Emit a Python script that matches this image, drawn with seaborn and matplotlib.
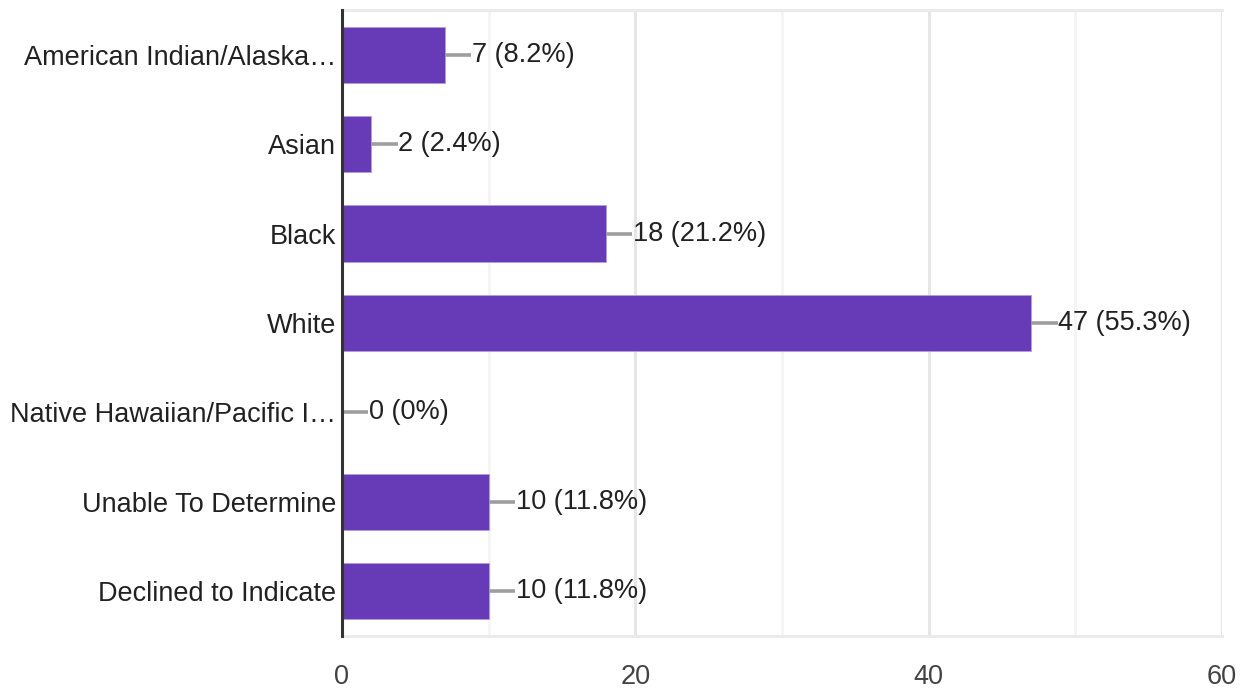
import numpy as np
import matplotlib
matplotlib.use('Agg')
import matplotlib.pyplot as plt
import pandas as pd
import seaborn as sns

sns.set_style('white')
plt.rcParams['font.family'] = ['Liberation Sans', 'DejaVu Sans']

categories = ['American Indian/Alaska\u2026', 'Asian', 'Black', 'White',
              'Native Hawaiian/Pacific I\u2026', 'Unable To Determine',
              'Declined to Indicate']
counts = [7, 2, 18, 47, 0, 10, 10]
pct_labels = ['8.2%', '2.4%', '21.2%', '55.3%', '0%', '11.8%', '11.8%']
x_ticks = [0, 20, 40, 60]
minor_ticks = [10, 30, 50]

df = pd.DataFrame({'race': categories, 'count': counts})

fig = plt.figure(figsize=(12.48, 6.93), dpi=100)
ax = fig.add_axes([0.274, 0.0823, 0.705, 0.9033])

sns.barplot(data=df, y='race', x='count', color='#673ab7', saturation=1,
            width=0.63, ax=ax, zorder=3)
for p in ax.patches:
    p.set_edgecolor('#b39ddb')
    p.set_linewidth(0.6)

ax.set_xlim(0, 60)
ax.set_ylim(6.5, -0.5)
ax.set_xticks(x_ticks)
ax.set_xticks(minor_ticks, minor=True)
ax.grid(axis='x', which='major', color='#e6e6e6', lw=2.2, zorder=0)
ax.grid(axis='x', which='minor', color='#f4f4f4', lw=2.0, zorder=0)
ax.set_xlabel('')
ax.set_ylabel('')

fs = 19.5

# leader lines + value labels
for i, (c, pc) in enumerate(zip(counts, pct_labels)):
    ax.hlines(i, c, c + 1.8, color='#9e9e9e', lw=2.6, zorder=4)
    ax.text(c + 1.85, i, f'{c} ({pc})', va='center', ha='left',
            fontsize=fs, color='#212121', zorder=5)

for s in ['top', 'bottom']:
    ax.spines[s].set_color('#ebebeb')
    ax.spines[s].set_linewidth(2.2)
ax.spines['right'].set_visible(False)
ax.spines['left'].set_color('#333333')
ax.spines['left'].set_linewidth(2.2)
ax.spines['left'].set_zorder(6)

ax.tick_params(axis='y', length=0, pad=4, labelsize=fs, labelcolor='#212121')
ax.tick_params(axis='x', which='both', length=0, pad=20, labelsize=fs,
               labelcolor='#424242')

fig.savefig('out.png', dpi=100, facecolor='white')
